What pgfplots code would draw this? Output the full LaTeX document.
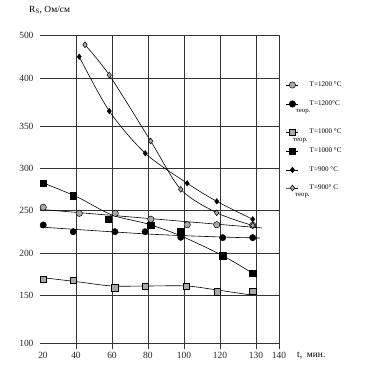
\documentclass[border=0pt]{standalone}
\usepackage{pgfplots}
\pgfplotsset{compat=1.18}
\usepackage{fontspec}
\setmainfont{Liberation Serif}
\definecolor{mgray}{HTML}{A8A8A8}
\definecolor{gridc}{HTML}{333333}
\pgfplotstableread{
u v
0.09 254.2
1.09 247.4
2.09 247.4
3.08 240.6
4.09 234.4
4.91 234.4
5.91 233.8
}\tGrayCirc
\pgfplotstableread{
u v
0.09 234.1
0.925 226.5
2.08 226.5
2.92 226.5
3.91 220.1
5.075 219.7
5.91 219.7
}\tBlackCirc
\pgfplotstableread{
u v
0.09 172.4
0.925 171.6
2.08 162.8
2.92 164.8
4.07 164.8
4.93 158.3
5.91 159.1
}\tGraySq
\pgfplotstableread{
u v
0.09 281.5
0.925 267.4
1.9 240.6
3.08 234.1
3.91 226.5
5.075 199.2
5.91 179.2
}\tBlackSq
\pgfplotstableread{
u v
1.09 425.3
1.925 363.6
2.925 315.6
4.09 281.5
4.91 261.0
5.91 240.6
}\tBlackDia
\pgfplotstableread{
u v
1.25 438.9
1.925 404.5
3.075 329.5
3.91 274.7
4.91 248.0
5.91 233.5
}\tGrayDia
\pgfplotsset{
  legax/.style={at={(0bp,0bp)}, anchor=south west, scale only axis,
    width=239bp, height=314bp, xmin=0, xmax=1, ymin=0, ymax=1, hide axis,
    legend style={at={(1.029,#1)}, anchor=west, draw=none, fill=none,
      inner sep=0pt, column sep=11bp,
      font=\fontsize{7.1}{8.5}\selectfont, nodes={inner sep=0pt}},
    legend cell align=left,
    legend image code/.code={\draw[mark repeat=2,mark phase=2,##1] plot coordinates {(0bp,0bp)(6bp,0bp)(12bp,0bp)};}},
}
\begin{document}
\begin{tikzpicture}
\path[use as bounding box] (-40bp,-19bp) rectangle (325bp,349bp);
\begin{axis}[
  at={(0bp,0bp)}, anchor=south west,
  scale only axis, width=239bp, height=314bp,
  xmin=0, xmax=6.64, ymin=93.2, ymax=450,
  axis line style={draw=none},
  xtick={1,2,3,4,5,6,6.64}, xticklabels={40,60,80,100,120,130,140},
  extra x ticks={0.083}, extra x tick labels={20}, extra x tick style={grid=none},
  ytick={100,154.5,202.3,251.1,298.9,346.6,401.1,450},
  yticklabels={100,150,200,250,300,350,400,500},
  major tick length=0.01pt,
  grid=major, major grid style={draw=gridc, line width=0.8pt},
  tick label style={font=\fontsize{9.5}{11}\selectfont, text=black!85},
  /pgf/number format/assume math mode=true,
  yticklabel style={xshift=-3bp},
  clip=false,
]
% fitted lines
\addplot[black, line width=0.6pt] coordinates {(0,251.9)(6.17,230.7)};
\addplot[black, line width=0.6pt, smooth] coordinates {(0,231.8)(2.97,223.9)(5,220.5)(6.11,219.3)};
\addplot[black, line width=0.6pt, smooth] coordinates {(0,174.6)(1.02,169.7)(2,164.8)(3,164.8)(4.07,164.8)(4.93,160.2)(5.88,154.5)};
\addplot[black, line width=0.6pt, smooth] coordinates {(0,283.3)(1.02,266.2)(2,245.5)(3,235.2)(3.92,221.6)(5.08,199.2)(5.91,179.2)};
\addplot[black, line width=0.6pt, smooth, tension=0.5] table[x=u,y=v] {\tBlackDia};
\addplot[black, line width=0.6pt, smooth, tension=0.5] table[x=u,y=v] {\tGrayDia};
% markers
\addplot[only marks, mark=*, mark size=3.2pt, mark options={fill=mgray, draw=black, line width=0.5pt}] table[x=u,y=v] {\tGrayCirc};
\addplot[only marks, mark=*, mark size=3.2pt, mark options={fill=black, draw=black}] table[x=u,y=v] {\tBlackCirc};
\addplot[only marks, mark=square*, mark size=3.2pt, mark options={fill=mgray, draw=black, line width=0.5pt}] table[x=u,y=v] {\tGraySq};
\addplot[only marks, mark=square*, mark size=3.2pt, mark options={fill=black, draw=black}] table[x=u,y=v] {\tBlackSq};
\addplot[only marks, mark=diamond*, mark size=2.8pt, mark options={fill=black, draw=black}] table[x=u,y=v] {\tBlackDia};
\addplot[only marks, mark=diamond*, mark size=3pt, mark options={fill=mgray, draw=black, line width=0.5pt}] table[x=u,y=v] {\tGrayDia};
\end{axis}
\begin{axis}[legax=0.8408]
\addlegendimage{black, line width=0.6pt, mark=*, mark size=3.2pt, mark options={fill=mgray, draw=black, line width=0.5pt}}
\addlegendentry{T=1200 °C}
\end{axis}
\begin{axis}[legax=0.7803]
\addlegendimage{black, line width=0.6pt, mark=*, mark size=3.2pt, mark options={fill=black}}
\addlegendentry{T=1200°C}
\end{axis}
\begin{axis}[legax=0.6911]
\addlegendimage{black, line width=0.6pt, mark=square*, mark size=3.2pt, mark options={fill=mgray, draw=black, line width=0.5pt}}
\addlegendentry{T=1000 °C}
\end{axis}
\begin{axis}[legax=0.6306]
\addlegendimage{black, line width=0.6pt, mark=square*, mark size=3.2pt, mark options={fill=black}}
\addlegendentry{T=1000 °C}
\end{axis}
\begin{axis}[legax=0.5701]
\addlegendimage{black, line width=0.6pt, mark=diamond*, mark size=2.8pt, mark options={fill=black}}
\addlegendentry{T=900 °C}
\end{axis}
\begin{axis}[legax=0.5127]
\addlegendimage{black, line width=0.6pt, mark=diamond*, mark size=3pt, mark options={fill=mgray, draw=black, line width=0.5pt}}
\addlegendentry{T=900° C}
\end{axis}
\node[anchor=west, inner sep=0pt, font=\fontsize{6.8}{8}\selectfont] at (255.7bp,237bp) {теор.};
\node[anchor=west, inner sep=0pt, font=\fontsize{6.8}{8}\selectfont] at (253bp,208bp) {теор.};
\node[anchor=west, inner sep=0pt, font=\fontsize{6.8}{8}\selectfont] at (255bp,153bp) {теор.};
\node[anchor=west, inner sep=0pt, font=\fontsize{9.5}{11}\selectfont] at (-11bp,339bp) {R\textsubscript{S}, Ом/см};
\node[anchor=west, inner sep=0pt, font=\fontsize{9.5}{11}\selectfont] at (257bp,-7bp) {t,\ \ мин.};
\end{tikzpicture}
\end{document}
